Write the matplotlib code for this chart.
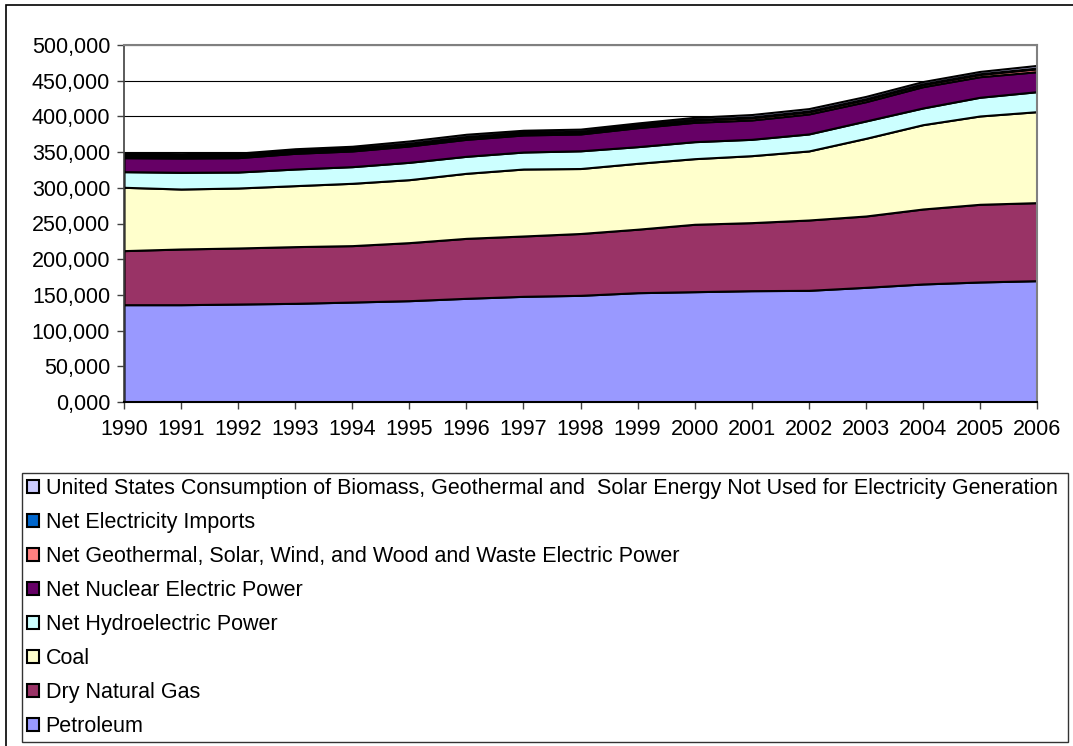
import matplotlib
matplotlib.use("Agg")
import matplotlib.pyplot as plt
from matplotlib.patches import Patch, Rectangle

plt.rcParams['font.family'] = ['Liberation Sans', 'DejaVu Sans']

years = list(range(1990, 2007))

petroleum = [136300, 136300, 137200, 138200, 140000, 141900, 145200, 148000, 149400,
             153100, 154500, 155900, 156400, 160600, 165300, 168100, 169900]
natural_gas = [75700, 78000, 78500, 79400, 79000, 81300, 84000, 84500, 86600,
               88900, 94400, 95300, 98500, 99900, 105000, 108800, 109300]
coal = [88700, 84000, 84000, 85400, 87300, 88200, 91100, 93800, 91000,
        92300, 91900, 93800, 96700, 108800, 118100, 123700, 127400]
hydro = [21900, 23400, 22400, 23300, 23300, 24300, 23800, 23800, 24800,
         23300, 23800, 22900, 23800, 24300, 23400, 26200, 28000]
nuclear = [19600, 20000, 20100, 22000, 22000, 22900, 23800, 23900, 23600,
           26600, 27100, 27100, 28000, 27000, 29800, 28800, 28000]
geo_elec = [2600, 2700, 2700, 2700, 2800, 2900, 3000, 2800, 2900,
            2800, 3000, 3200, 3200, 3200, 3100, 3300, 4100]
imports = [800, 800, 900, 900, 900, 1000, 1000, 900, 900,
           900, 1000, 1100, 1000, 900, 900, 900, 1000]
biomass = [2600, 2700, 2700, 2800, 2900, 3100, 3100, 2900, 3000,
           2900, 3000, 3300, 3300, 3300, 3200, 3200, 3700]

labels = ["Petroleum", "Dry Natural Gas", "Coal", "Net Hydroelectric Power",
          "Net Nuclear Electric Power",
          "Net Geothermal, Solar, Wind, and Wood and Waste Electric Power",
          "Net Electricity Imports",
          "United States Consumption of Biomass, Geothermal and  Solar Energy Not Used for Electricity Generation"]
colors = ["#9999FF", "#993366", "#FFFFCC", "#CCFFFF", "#660066",
          "#FF8080", "#0066CC", "#CCCCFF"]

y_ticks = [0, 50000, 100000, 150000, 200000, 250000, 300000, 350000, 400000, 450000, 500000]
y_labels = ["0,000", "50,000", "100,000", "150,000", "200,000", "250,000",
            "300,000", "350,000", "400,000", "450,000", "500,000"]

W, H = 1073, 746
fig = plt.figure(figsize=(W / 100, H / 100), dpi=100)
ax = fig.add_axes([124 / W, 1 - 402 / H, (1037 - 124) / W, (402 - 45) / H])

series = [petroleum, natural_gas, coal, hydro, nuclear, geo_elec, imports, biomass]
ax.stackplot(years, series, colors=colors, edgecolor="black", linewidth=1.5, zorder=3)

ax.set_xlim(1990, 2006)
ax.set_ylim(0, 500000)
ax.set_xticks(years)
ax.set_xticklabels([str(y) for y in years])
ax.set_yticks(y_ticks)
ax.set_yticklabels(y_labels)
ax.tick_params(axis="both", labelsize=15.5, direction="out", length=5, width=1,
               color="#404040")
ax.tick_params(axis="x", pad=7)
ax.tick_params(axis="y", pad=5)
ax.yaxis.grid(True, color="black", linewidth=0.8, zorder=1)
ax.set_axisbelow(True)

for side in ["top", "right"]:
    ax.spines[side].set_color("#808080")
    ax.spines[side].set_linewidth(1.5)
ax.spines["left"].set_color("#404040")
ax.spines["left"].set_linewidth(1.2)
ax.spines["bottom"].set_color("black")
ax.spines["bottom"].set_linewidth(1.5)
for s in ax.spines.values():
    s.set_zorder(4)

handles = [Patch(facecolor=c, edgecolor="black", linewidth=1.5, label=l)
           for c, l in zip(colors, labels)][::-1]
leg = fig.legend(handles=handles, loc="upper left",
                 bbox_to_anchor=(22 / W, 1 - 473 / H, (1068 - 22) / W, 0),
                 mode="expand", fontsize=15.5, frameon=True, fancybox=False,
                 borderaxespad=0, borderpad=0.25, handlelength=0.55,
                 handleheight=0.55, handletextpad=0.3, labelspacing=0.6)
leg.get_frame().set_edgecolor("black")
leg.get_frame().set_linewidth(1.0)

fig.patches.append(Rectangle((6 / W, -0.05), 1.0, 1.05 - 5 / H, transform=fig.transFigure,
                             fill=False, edgecolor="black", linewidth=1.2))

fig.savefig("out.png", dpi=100)
